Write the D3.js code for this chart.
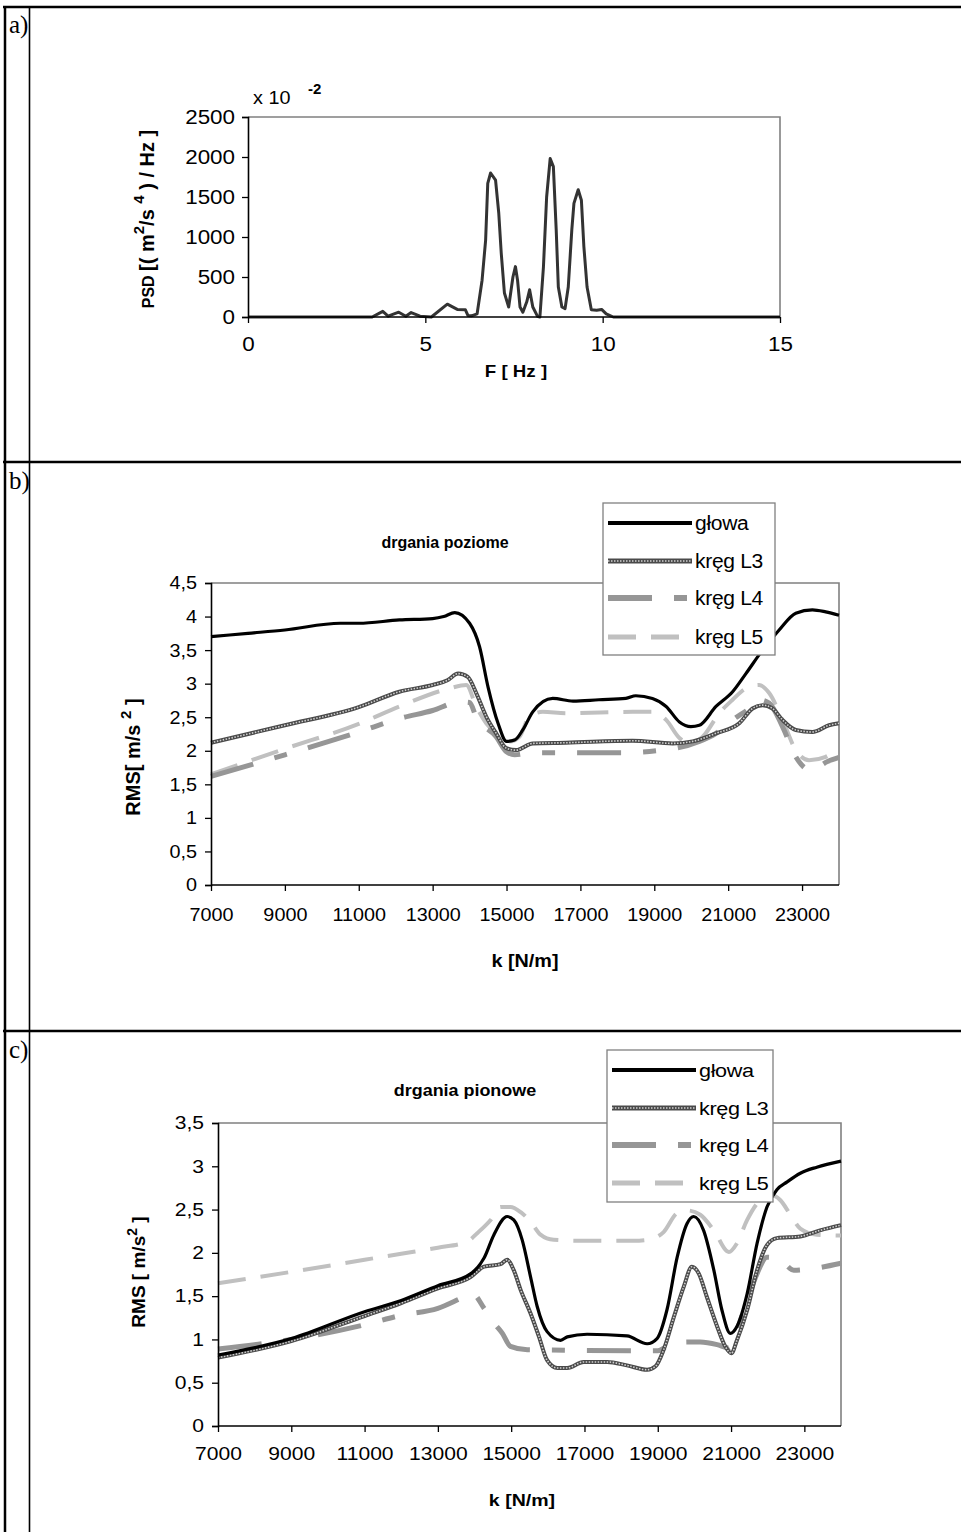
<!DOCTYPE html>
<html><head><meta charset="utf-8">
<script src="https://cdn.jsdelivr.net/npm/d3@7"></script>
<style>
body{margin:0;background:#fff}
svg{display:block}
text{font-family:"Liberation Sans",Arial,sans-serif;fill:#000}
</style>
</head><body>
<svg id="chart" width="961" height="1532"></svg>
<script>
// ---------------- DATA ----------------
// Panel a: PSD spectrum
const psdFreq = [0, 3.5, 3.8, 3.95, 4.25, 4.45, 4.6, 4.85, 5.17, 5.62, 5.9, 6.13, 6.2, 6.3, 6.46, 6.6, 6.7, 6.76, 6.84, 6.98, 7.07, 7.14, 7.23, 7.35, 7.47, 7.54, 7.6, 7.67, 7.75, 7.86, 7.94, 8.03, 8.16, 8.23, 8.33, 8.42, 8.52, 8.61, 8.69, 8.75, 8.85, 8.94, 9.03, 9.13, 9.19, 9.31, 9.4, 9.47, 9.56, 9.68, 9.83, 9.97, 10.1, 10.3, 15];
const psdVal  = [0, 0, 70, 10, 60, 10, 55, 10, 0, 160, 95, 90, 20, 15, 40, 460, 960, 1670, 1800, 1710, 1300, 800, 300, 125, 500, 630, 460, 125, 60, 190, 340, 125, 10, 0, 625, 1500, 1980, 1880, 1090, 375, 125, 105, 375, 1090, 1420, 1590, 1460, 880, 375, 90, 85, 95, 40, 0, 0];
const psdXTicks = [0, 5, 10, 15];
const psdYTicks = [0, 500, 1000, 1500, 2000, 2500];

// Panel b: drgania poziome
const bGlowaK = [7000, 8000, 9000, 10500, 11000, 12100, 13000, 13300, 13600, 14000, 14270, 14500, 14770, 15000, 15220, 15440, 15710, 16250, 16800, 17500, 18230, 18500, 18950, 19320, 19680, 19990, 20220, 20670, 21120, 21480, 21930, 22380, 22830, 23280, 23640, 24000];
const bGlowaV = [3.70, 3.75, 3.80, 3.90, 3.90, 3.95, 3.97, 4.00, 4.06, 3.90, 3.55, 2.95, 2.41, 2.14, 2.16, 2.31, 2.58, 2.78, 2.74, 2.76, 2.78, 2.82, 2.78, 2.66, 2.43, 2.36, 2.38, 2.66, 2.88, 3.15, 3.50, 3.80, 4.05, 4.10, 4.07, 4.02];
const bL3K = [7000, 9000, 11000, 12100, 13000, 13400, 13690, 13950, 14180, 14450, 14720, 14990, 15260, 15710, 16610, 18410, 19500, 20040, 20670, 21300, 21660, 21930, 22200, 22470, 22830, 23280, 23730, 24000];
const bL3V = [2.12, 2.38, 2.65, 2.88, 2.98, 3.05, 3.15, 3.10, 2.86, 2.51, 2.26, 2.04, 2.01, 2.11, 2.12, 2.15, 2.11, 2.14, 2.26, 2.41, 2.63, 2.68, 2.63, 2.46, 2.31, 2.28, 2.38, 2.41];
const bL4K = [7000, 9000, 11000, 12100, 13000, 13730, 14000, 14180, 14720, 14990, 15220, 15710, 18050, 19590, 20220, 20670, 21120, 21570, 21840, 22110, 22470, 22830, 23230, 23690, 24000];
const bL4V = [1.62, 1.94, 2.28, 2.48, 2.60, 2.73, 2.72, 2.50, 2.21, 1.99, 1.94, 1.97, 1.97, 2.04, 2.14, 2.26, 2.46, 2.63, 2.76, 2.71, 2.36, 1.91, 1.71, 1.84, 1.90];
const bL5K = [7000, 9000, 11000, 12100, 13460, 13910, 14180, 14450, 14860, 15080, 15350, 15620, 15980, 16610, 18410, 18950, 19320, 19680, 19950, 20310, 20760, 21120, 21480, 21840, 22110, 22470, 22830, 23190, 23640, 24000];
const bL5V = [1.65, 2.03, 2.40, 2.66, 2.93, 2.98, 2.66, 2.41, 2.21, 2.14, 2.21, 2.51, 2.58, 2.56, 2.58, 2.58, 2.46, 2.19, 2.11, 2.21, 2.56, 2.76, 2.93, 2.98, 2.86, 2.46, 2.01, 1.86, 1.91, 2.06];
const bYTicks = [0, 0.5, 1, 1.5, 2, 2.5, 3, 3.5, 4, 4.5];

// Panel c: drgania pionowe
const cGlowaK = [7000, 9000, 11000, 12000, 13000, 13900, 14260, 14530, 14890, 15070, 15300, 15530, 15710, 15980, 16350, 16530, 17070, 18160, 18710, 18980, 19250, 19530, 19800, 19980, 20250, 20530, 20750, 20980, 21160, 21440, 21710, 21980, 22250, 22530, 22890, 23340, 24000];
const cGlowaV = [0.82, 1.01, 1.32, 1.45, 1.62, 1.76, 1.94, 2.21, 2.42, 2.38, 2.15, 1.72, 1.38, 1.09, 0.99, 1.03, 1.06, 1.04, 0.95, 1.01, 1.34, 1.95, 2.34, 2.42, 2.26, 1.80, 1.34, 1.07, 1.15, 1.53, 2.11, 2.53, 2.73, 2.82, 2.92, 2.99, 3.06];
const cL3K = [7000, 9000, 11000, 12000, 13000, 13890, 14260, 14710, 14890, 15070, 15260, 15530, 15760, 15980, 16260, 16530, 16980, 17620, 18160, 18710, 18940, 19160, 19440, 19710, 19930, 20120, 20340, 20620, 20840, 21010, 21160, 21440, 21710, 21980, 22250, 22890, 23430, 24000];
const cL3V = [0.79, 0.98, 1.27, 1.42, 1.59, 1.72, 1.84, 1.87, 1.92, 1.80, 1.57, 1.30, 1.03, 0.76, 0.67, 0.67, 0.74, 0.74, 0.70, 0.65, 0.69, 0.88, 1.26, 1.61, 1.84, 1.76, 1.49, 1.15, 0.92, 0.84, 0.99, 1.34, 1.80, 2.09, 2.17, 2.19, 2.26, 2.32];
const cL4K = [7000, 9000, 11000, 12000, 13000, 13710, 13940, 14260, 14530, 14760, 14980, 15440, 19000, 19250, 19800, 20160, 20620, 20940, 21160, 21440, 21710, 21980, 22340, 22710, 23250, 24000];
const cL4V = [0.89, 1.00, 1.17, 1.28, 1.36, 1.49, 1.53, 1.36, 1.19, 1.07, 0.92, 0.88, 0.87, 0.92, 0.97, 0.97, 0.94, 0.90, 1.11, 1.45, 1.76, 1.95, 1.92, 1.80, 1.82, 1.88];
const cL5K = [7000, 9000, 11000, 12000, 13000, 13800, 14080, 14440, 14710, 14980, 15260, 15530, 15800, 16160, 16980, 18350, 18710, 19160, 19530, 19800, 20160, 20530, 20940, 21160, 21440, 21710, 22070, 22340, 22620, 22890, 23340, 24000];
const cL5V = [1.65, 1.78, 1.92, 1.99, 2.06, 2.13, 2.23, 2.38, 2.53, 2.53, 2.47, 2.36, 2.21, 2.15, 2.14, 2.14, 2.15, 2.24, 2.46, 2.49, 2.44, 2.26, 2.01, 2.11, 2.38, 2.57, 2.67, 2.61, 2.44, 2.28, 2.21, 2.20];
const cYTicks = [0, 0.5, 1, 1.5, 2, 2.5, 3, 3.5];

const kTicks = [7000, 9000, 11000, 13000, 15000, 17000, 19000, 21000, 23000];
const seriesNames = ["głowa", "kręg L3", "kręg L4", "kręg L5"];
const rowLabels = ["a)", "b)", "c)"];

// ---------------- DRAWING ----------------
const svg = d3.select("#chart");
svg.append("rect").attr("width", 961).attr("height", 1532).attr("fill", "#fff");

// horizontal stretch of text (the reference figure is stretched sideways)
function stretch(sel, f) {
  sel.each(function () {
    const w = this.getComputedTextLength();
    this.setAttribute("textLength", (w * f).toFixed(2));
    this.setAttribute("lengthAdjust", "spacingAndGlyphs");
  });
  return sel;
}

// table grid
const grid = svg.append("g").attr("stroke", "#000").attr("fill", "none");
grid.append("line").attr("x1", 3).attr("x2", 961).attr("y1", 7).attr("y2", 7).attr("stroke-width", 2.5);
grid.append("line").attr("x1", 5).attr("x2", 5).attr("y1", 6).attr("y2", 1532).attr("stroke-width", 2.5);
grid.append("line").attr("x1", 29.5).attr("x2", 29.5).attr("y1", 7).attr("y2", 1532).attr("stroke-width", 1.6);
[462, 1031].forEach(yy => grid.append("line").attr("x1", 3).attr("x2", 961).attr("y1", yy).attr("y2", yy).attr("stroke-width", 2.5));
const rowLabelY = [33, 489, 1058];
rowLabels.forEach((t, i) => svg.append("text").text(t).attr("x", 9).attr("y", rowLabelY[i])
  .style("font-family", '"Liberation Serif","Times New Roman",serif').style("font-size", "25px"));

const fmtComma = d => String(d).replace(".", ",");

const styles = [
  {stroke: "#000", width: 3.2},
  {stroke: "#4a4a4a", width: 4, texture: true},
  {stroke: "#969696", width: 5, dash: "44,22,13,22"},
  {stroke: "#c0c0c0", width: 4, dash: "28,15"}
];

function drawPanel(cfg) {
  const g = svg.append("g");
  const x = d3.scaleLinear().domain(cfg.xDomain).range([cfg.left, cfg.right]);
  const y = d3.scaleLinear().domain(cfg.yDomain).range([cfg.bottom, cfg.top]);

  g.append("path").attr("d", `M${cfg.left},${cfg.top}H${cfg.right}V${cfg.bottom}`)
    .attr("fill", "none").attr("stroke", "#808080").attr("stroke-width", 1.6);

  cfg.series.forEach(s => {
    const st = s.style;
    const pts = s.k.map((kv, j) => [kv, s.v[j]]);
    const line = d3.line().x(d => x(d[0])).y(d => y(d[1])).curve(cfg.curve);
    g.append("path").attr("d", line(pts)).attr("fill", "none")
      .attr("stroke", st.stroke).attr("stroke-width", st.width)
      .attr("stroke-dasharray", st.dash || null).attr("stroke-linejoin", "round");
    if (st.texture) {
      g.append("path").attr("d", line(pts)).attr("fill", "none")
        .attr("stroke", "#cfcfcf").attr("stroke-width", 1.6).attr("stroke-dasharray", "1.5,1.5");
    }
  });

  const ya = d3.axisLeft(y).tickValues(cfg.yTicks).tickFormat(cfg.yFmt).tickSizeOuter(0).tickSize(6).tickPadding(cfg.yPad);
  const xa = d3.axisBottom(x).tickValues(cfg.xTicks).tickFormat(d => String(d)).tickSizeOuter(0).tickSize(6).tickPadding(cfg.xPad);
  const gy = g.append("g").attr("transform", `translate(${cfg.left},0)`).call(ya);
  const gx = g.append("g").attr("transform", `translate(0,${cfg.bottom})`).call(xa);
  [gx, gy].forEach(a => {
    a.select(".domain").attr("stroke", "#000").attr("stroke-width", 1.6);
    a.selectAll(".tick line").attr("stroke", "#000").attr("stroke-width", 1.3);
    const tt = a.selectAll(".tick text").style("font-size", cfg.fontSize + "px")
      .style("font-family", '"Liberation Sans",Arial,sans-serif').attr("fill", "#000");
    stretch(tt, cfg.sx);
  });
  gx.select(".domain").attr("d", `M${cfg.left},0H${cfg.right}`);
  return {g, x, y};
}

function legend(x0, y0, w, h, rows, fs, sx) {
  const g = svg.append("g");
  g.append("rect").attr("x", x0).attr("y", y0).attr("width", w).attr("height", h)
    .attr("fill", "#fff").attr("stroke", "#808080").attr("stroke-width", 1.3);
  rows.forEach((yy, i) => {
    const st = styles[i];
    g.append("line").attr("x1", x0 + 5).attr("x2", x0 + 89).attr("y1", yy).attr("y2", yy)
      .attr("stroke", st.stroke).attr("stroke-width", st.width + 0.8)
      .attr("stroke-dasharray", st.dash || null);
    if (st.texture) g.append("line").attr("x1", x0 + 5).attr("x2", x0 + 89).attr("y1", yy).attr("y2", yy)
      .attr("stroke", "#cfcfcf").attr("stroke-width", 1.6).attr("stroke-dasharray", "1.5,1.5");
    const t = g.append("text").text(seriesNames[i]).attr("x", x0 + 92).attr("y", yy + 7)
      .style("font-size", fs + "px").style("letter-spacing", "-0.3px");
    stretch(t, sx);
  });
}

// ---- Panel a ----
drawPanel({
  left: 248, right: 780, top: 117, bottom: 317,
  xDomain: [0, 15], yDomain: [0, 2500],
  xTicks: psdXTicks, yTicks: psdYTicks, yFmt: d => String(d),
  yPad: 7, xPad: 14, fontSize: 20, sx: 1.12, curve: d3.curveLinear,
  series: [{k: psdFreq, v: psdVal, style: {stroke: "#333", width: 3}}]
});
stretch(svg.append("text").attr("x", 253).attr("y", 104).style("font-size", "18px").text("x 10"), 1.1);
svg.append("text").attr("x", 308).attr("y", 94).style("font-size", "15px").style("font-weight", "bold").text("-2");
{
  const t = svg.append("text").attr("transform", "translate(154,219) rotate(-90)")
    .attr("text-anchor", "middle").style("font-weight", "bold").style("font-size", "20px");
  t.append("tspan").style("font-size", "16px").text("PSD ");
  t.append("tspan").text("[( m");
  t.append("tspan").attr("dy", -10).style("font-size", "15px").text("2");
  t.append("tspan").attr("dy", 10).text("/s ");
  t.append("tspan").attr("dy", -10).style("font-size", "15px").text("4");
  t.append("tspan").attr("dy", 10).text(" ) / Hz ]");
}
stretch(svg.append("text").attr("x", 516).attr("y", 377).attr("text-anchor", "middle")
  .style("font-weight", "bold").style("font-size", "17px").text("F [ Hz ]"), 1.1);

// ---- Panel b ----
drawPanel({
  left: 211, right: 839, top: 583, bottom: 885,
  xDomain: [7000, 24000], yDomain: [0, 4.5],
  xTicks: kTicks, yTicks: bYTicks, yFmt: fmtComma,
  yPad: 8, xPad: 17, fontSize: 18.5, sx: 1.07, curve: d3.curveMonotoneX,
  series: [
    {k: bGlowaK, v: bGlowaV, style: styles[0]},
    {k: bL3K, v: bL3V, style: styles[1]},
    {k: bL4K, v: bL4V, style: styles[2]},
    {k: bL5K, v: bL5V, style: styles[3]}
  ].reverse()
});
stretch(svg.append("text").attr("x", 445).attr("y", 548).attr("text-anchor", "middle")
  .style("font-weight", "bold").style("font-size", "16px").text("drgania poziome"), 1.0);
{
  const t = svg.append("text").attr("transform", "translate(140,757) rotate(-90)")
    .attr("text-anchor", "middle").style("font-weight", "bold").style("font-size", "20px");
  t.append("tspan").text("RMS[ m/s ");
  t.append("tspan").attr("dy", -9).style("font-size", "15px").text("2");
  t.append("tspan").attr("dy", 9).text(" ]");
}
stretch(svg.append("text").attr("x", 525).attr("y", 967).attr("text-anchor", "middle")
  .style("font-weight", "bold").style("font-size", "18px").text("k [N/m]"), 1.1);
legend(603, 503, 172, 152, [523, 561, 598, 637], 19.5, 1.08);

// ---- Panel c ----
drawPanel({
  left: 218, right: 841, top: 1123, bottom: 1426,
  xDomain: [7000, 24000], yDomain: [0, 3.5],
  xTicks: kTicks, yTicks: cYTicks, yFmt: fmtComma,
  yPad: 8, xPad: 15, fontSize: 18, sx: 1.17, curve: d3.curveMonotoneX,
  series: [
    {k: cGlowaK, v: cGlowaV, style: styles[0]},
    {k: cL3K, v: cL3V, style: styles[1]},
    {k: cL4K, v: cL4V, style: styles[2]},
    {k: cL5K, v: cL5V, style: styles[3]}
  ].reverse()
});
stretch(svg.append("text").attr("x", 465).attr("y", 1096).attr("text-anchor", "middle")
  .style("font-weight", "bold").style("font-size", "16px").text("drgania pionowe"), 1.12);
{
  const t = svg.append("text").attr("transform", "translate(145,1272) rotate(-90)")
    .attr("text-anchor", "middle").style("font-weight", "bold").style("font-size", "19px");
  t.append("tspan").text("RMS [ m/s");
  t.append("tspan").attr("dy", -8).style("font-size", "14px").text("2");
  t.append("tspan").attr("dy", 8).text(" ]");
}
stretch(svg.append("text").attr("x", 522).attr("y", 1506).attr("text-anchor", "middle")
  .style("font-weight", "bold").style("font-size", "17px").text("k [N/m]"), 1.15);
legend(607, 1050, 166, 152, [1070, 1108, 1145, 1183], 18, 1.2);
</script>
</body></html>
